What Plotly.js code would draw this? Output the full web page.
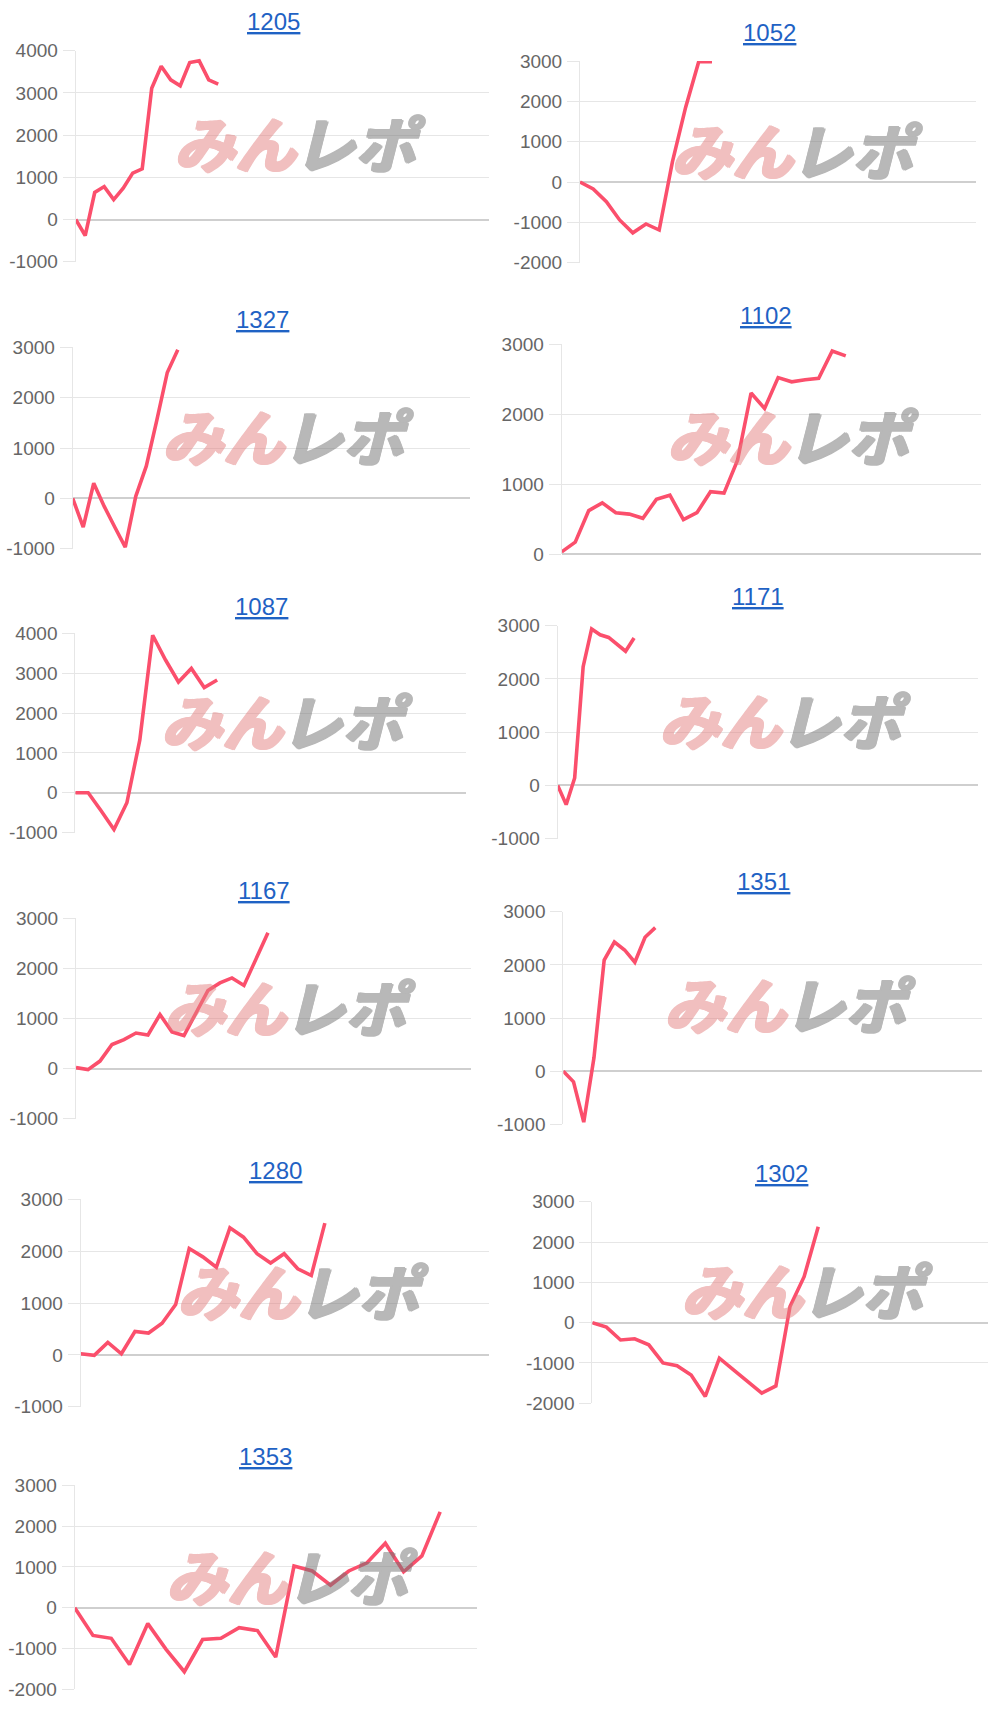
<!DOCTYPE html>
<html><head><meta charset="utf-8">
<script src="https://cdn.plot.ly/plotly-3.0.1.min.js"></script>
<style>html,body{margin:0;padding:0;background:#fff}</style>
</head><body><div id="chart" style="width:1000px;height:1712px"></div>
<script>
// ---- data ----
const titles = ['1205','1052','1327','1102','1087','1171','1167','1351','1280','1302','1353'];

const s1205 = [0,-380,640,780,470,740,1100,1200,3110,3630,3310,3170,3720,3760,3310,3210];
const s1052 = [0,-170,-490,-940,-1260,-1040,-1190,500,1850,2990,2985];
const s1327 = [0,-570,300,-160,-570,-970,40,640,1550,2500,2950];
const s1102 = [30,170,620,730,590,570,510,780,840,490,590,890,870,1340,2300,2080,2520,2460,2490,2510,2900,2830];
const s1087 = [0,0,-450,-920,-250,1320,3950,3330,2780,3120,2640,2830];
const s1171 = [0,-360,140,2230,2940,2830,2780,2660,2520,2770];
const s1167 = [20,-20,150,480,580,710,670,1080,730,660,1110,1560,1710,1810,1660,2180,2710];
const s1351 = [0,-200,-960,250,2090,2430,2280,2050,2520,2700];
const s1280 = [20,-10,240,20,450,420,610,970,2050,1890,1690,2450,2270,1950,1770,1950,1660,1530,2540];
const s1302 = [0,-110,-430,-400,-550,-1000,-1070,-1300,-1830,-880,-1170,-1460,-1750,-1570,400,1140,2380];
const s1353 = [0,-680,-750,-1390,-390,-1020,-1570,-780,-750,-490,-560,-1210,1020,900,550,900,1100,1580,880,1270,2350];

const series = [s1205,s1052,s1327,s1102,s1087,s1171,s1167,s1351,s1280,s1302,s1353];

const ticksA = [-1000,0,1000,2000,3000,4000];
const ticksB = [-2000,-1000,0,1000,2000,3000];
const ticksC = [-1000,0,1000,2000,3000];
const ticksD = [0,1000,2000,3000];
const panelTicks = [ticksA,ticksB,ticksC,ticksD,ticksA,ticksC,ticksC,ticksC,ticksC,ticksB,ticksB];

// x extent (number of steps spanned by the plot width)
const xSpan = [43.5,30,37.8,31,30.3,49.5,32.9,41,30.1,28,22];

// watermark text parts
const markLeft = 'みん';
const markRight = 'レポ';

// ---- layout geometry (pixels) ----
const W = 1000, H = 1712;
// [left, right, top, bottom]
const boxes = [
  [75.7,489,50.7,261.7],
  [580,976,61,262.7],
  [72.7,470,347.3,548.7],
  [561.7,981,344,554],
  [75.3,466,633.3,832.7],
  [557.7,977.7,625.7,838.7],
  [76,470.7,918.3,1118.7],
  [563.3,982.3,911.7,1124.3],
  [80.7,489,1199.3,1406.7],
  [592.3,987.7,1201.7,1403.3],
  [74.7,476.7,1485.3,1689.3]
];
const titlePos = [[273,22],[769,32.7],[262,319.3],[765.7,315],[261.7,606],[757.7,596],[264.3,890.7],[763.3,881.7],[275.3,1170],[781,1173.3],[265.7,1456.7]];
const markPos = [[300,141.5],[796.7,148],[288,434],[792.5,434.7],[287,720],[785,718],[290,1005],[790,1003],[303,1289],[806.7,1288.7],[291.7,1574]];

const LINE = '#fb4f6c';
const GRID = '#e6e6e6';
const FONT = 'Liberation Sans, Arial, Helvetica, sans-serif';
const PINK = 'rgb(228,128,128)';
const GREY = 'rgb(115,115,115)';

function thick(c) {
  return ['1.5px 0 0 ' + c, '-1.5px 0 0 ' + c, '0 1px 0 ' + c, '0 -1px 0 ' + c,
          '1.5px 1px 0 ' + c, '-1.5px -1px 0 ' + c].join(', ');
}

const traces = [];
const layout = {
  width: W, height: H,
  margin: {l:0, r:0, t:0, b:0},
  paper_bgcolor: '#ffffff', plot_bgcolor: 'rgba(0,0,0,0)',
  showlegend: false,
  hovermode: false,
  annotations: []
};

series.forEach((ys, i) => {
  const n = i === 0 ? '' : String(i + 1);
  const xs = ys.map((_, k) => k);
  traces.push({
    type: 'scatter', mode: 'lines', x: xs, y: ys,
    xaxis: 'x' + n, yaxis: 'y' + n,
    line: {color: LINE, width: 3.6, shape: 'linear'},
    cliponaxis: true
  });
  const b = boxes[i];
  const tv = panelTicks[i];
  layout['xaxis' + n] = {
    domain: [b[0] / W, b[1] / W],
    range: [0, xSpan[i]],
    showgrid: false, zeroline: false, showline: false,
    showticklabels: false, ticks: '', fixedrange: true,
    anchor: 'y' + n
  };
  layout['yaxis' + n] = {
    domain: [1 - b[3] / H, 1 - b[2] / H],
    range: [tv[0], tv[tv.length - 1]],
    tickvals: tv, ticktext: tv.map(v => String(v)),
    showgrid: true, gridcolor: GRID, gridwidth: 1,
    zeroline: true, zerolinecolor: '#cfcfcf', zerolinewidth: 2,
    showline: true, linecolor: GRID, linewidth: 1,
    ticks: 'outside', ticklen: 12, tickcolor: GRID, tickwidth: 1,
    ticklabelstandoff: 1,
    tickfont: {family: FONT, size: 19, color: '#666666'},
    fixedrange: true,
    anchor: 'x' + n
  };
  layout.annotations.push({
    xref: 'paper', yref: 'paper',
    x: titlePos[i][0] / W, y: 1 - titlePos[i][1] / H,
    xanchor: 'center', yanchor: 'middle',
    text: '<u>' + titles[i] + '</u>',
    showarrow: false,
    font: {family: FONT, size: 24, color: '#1f62c4'}
  });
  const mx = markPos[i][0], my = markPos[i][1];
  layout.annotations.push({
    xref: 'paper', yref: 'paper',
    x: (mx - 64) / W, y: 1 - my / H,
    xanchor: 'center', yanchor: 'middle',
    text: '<b><i>' + markLeft + '</i></b>',
    showarrow: false, opacity: 0.5,
    font: {family: 'Noto Sans CJK JP, sans-serif', size: 61, color: PINK, shadow: thick(PINK)}
  });
  layout.annotations.push({
    xref: 'paper', yref: 'paper',
    x: (mx + 60) / W, y: 1 - my / H,
    xanchor: 'center', yanchor: 'middle',
    text: '<b><i>' + markRight + '</i></b>',
    showarrow: false, opacity: 0.5,
    font: {family: 'Noto Sans CJK JP, sans-serif', size: 61, color: GREY, shadow: thick(GREY)}
  });
});

Plotly.newPlot('chart', traces, layout, {staticPlot: true, displayModeBar: false});
</script>
</body></html>
